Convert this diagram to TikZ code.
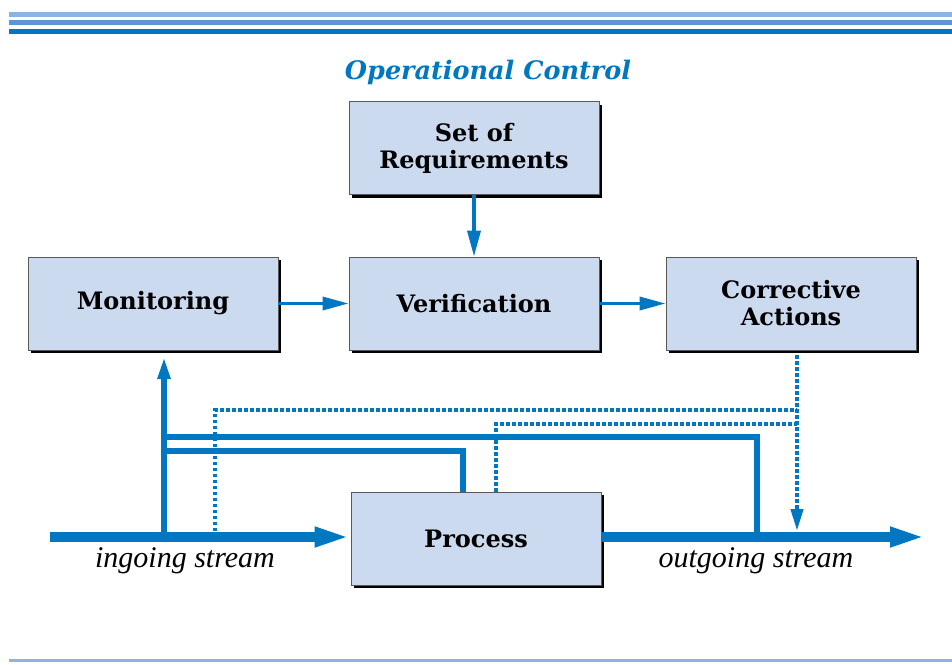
\documentclass[tikz,border=0pt]{standalone}
\usepackage{fontspec}
\setmainfont{DejaVu Serif}
\newfontfamily\streamfont{Liberation Serif}
\usetikzlibrary{arrows.meta, shadows}
\definecolor{myblue}{rgb}{0.0,0.467,0.753}
\definecolor{mylightblue}{rgb}{0.553,0.702,0.886}
\definecolor{mymidblue}{rgb}{0.353,0.588,0.816}
\definecolor{myfill}{rgb}{0.800,0.855,0.941}
\definecolor{myborder}{gray}{0.35}
\tikzset{
    box/.style={draw=myborder, fill=myfill, line width=0.8pt, minimum width=250pt, minimum height=93pt, inner sep=0pt, align=center, font=\fontsize{24}{27}\selectfont\bfseries, drop shadow={shadow xshift=3pt, shadow yshift=-3pt, fill=black, opacity=1}},
    flow/.style={myblue, line width=3.5pt, -{Triangle[length=26pt, width=13pt]}},
    stream/.style={myblue, line width=9.5pt, -{Triangle[length=36pt, width=18pt]}},
    feed/.style={myblue, line width=5.2pt},
    dotfeed/.style={myblue, line width=4.2pt, dash pattern=on 3.5pt off 2.5pt},
    streamlabel/.style={font=\fontsize{30}{32}\selectfont\streamfont\itshape}
}

\begin{document}
\begin{tikzpicture}[x=1pt, y=-1pt, >=latex]
    \useasboundingbox (0,0) rectangle (952,664);
    \fill[mylightblue] (9,12) rectangle (952,17);
    \fill[mymidblue] (9,20) rectangle (952,25);
    \fill[myblue] (9,29) rectangle (952,34);
    \fill[mylightblue] (9,659) rectangle (952,662);
    \node[myblue, font=\fontsize{25.5}{28}\selectfont\bfseries\itshape] (title) at (488,72) {Operational Control};
    \node[box] (req) at (474,148) {Set of\\Requirements};
    \node[box] (mon) at (153,303.5) {Monitoring};
    \node[box] (ver) at (474,303.5) {Verification};
    \node[box] (cor) at (791,303.5) {Corrective\\Actions};
    \node[box] (proc) at (476,538.5) {Process};
    \draw[flow] (req) -- (ver);
    \draw[flow] (mon) -- (ver);
    \draw[flow] (ver) -- (cor);
    \coordinate (in) at (50,537);
    \coordinate (out) at (926,537);
    \coordinate (m0) at (164,537);
    \coordinate (m1) at (164,357);
    \coordinate (j1) at (164,437);
    \coordinate (j2) at (757,437);
    \coordinate (j3) at (164,451);
    \coordinate (p1) at (463,451);
    \coordinate (d0) at (215,537);
    \coordinate (d1) at (215,410);
    \coordinate (c0) at (797,355);
    \coordinate (c1) at (797,410);
    \coordinate (c2) at (797,424);
    \coordinate (c3) at (797,531);
    \coordinate (q1) at (496,424);
    \draw[feed] (j1) -- (j2) -- (j2 |- out);
    \draw[feed] (j3) -- (p1) -- (p1 |- proc.north);
    \draw[dotfeed] (d0) -- (d1) -- (c1);
    \draw[dotfeed] (q1 |- proc.north) -- (q1) -- (c2);
    \draw[dotfeed, -{Triangle[length=22pt, width=12pt]}] (c0) -- (c3);
    \draw[stream] (in) -- (in -| proc.west);
    \draw[stream] (proc.east |- out) -- (out);
    \draw[feed, -{Triangle[length=22pt, width=12pt]}] (m0) -- (m1);
    \node[streamlabel] (inlabel) at (185,561) {ingoing stream};
    \node[streamlabel] (outlabel) at (756,561) {outgoing stream};
\end{tikzpicture}
\end{document}
